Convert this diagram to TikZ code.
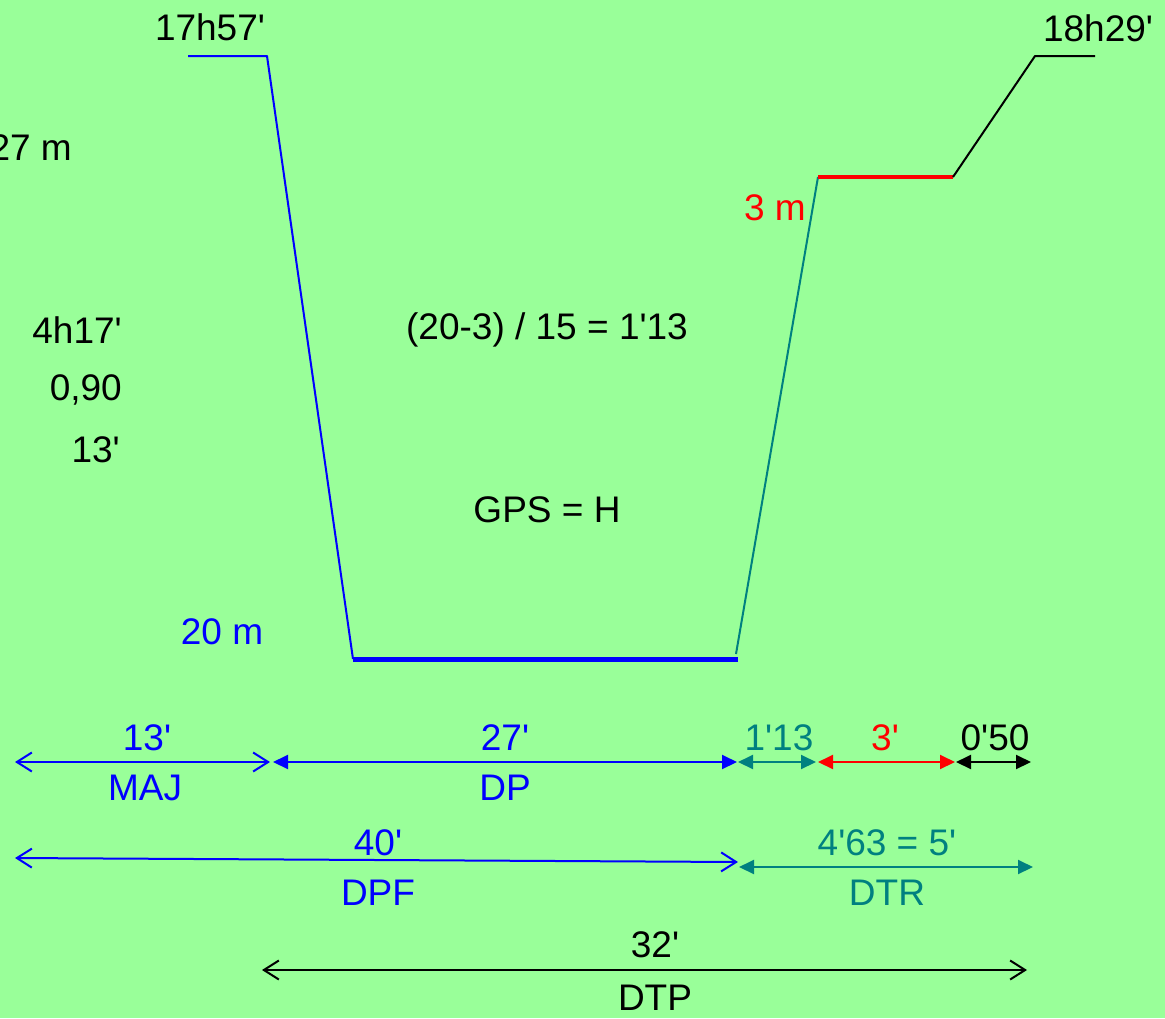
\documentclass[tikz,border=0pt]{standalone}
\usepackage{fontspec}
\setmainfont{Liberation Sans}[Ligatures=TeXOff]
\usetikzlibrary{arrows.meta}
\definecolor{PoolFill}{HTML}{99FF99}
\definecolor{DiveInk}{HTML}{0000FF}
\definecolor{RiseInk}{HTML}{008080}
\definecolor{StopInk}{HTML}{FF0000}

\begin{document}
\begin{tikzpicture}[
    x=1pt, y=-1pt,
    font=\fontsize{37}{40}\selectfont,
    every node/.style={inner sep=0pt, anchor=center},
    prof/.style={line width=2pt, line join=round},
    dimline/.style={line width=2pt},
    barbdim/.style={
      dimline,
      {Straight Barb[length=15pt, width=19pt]}-{Straight Barb[length=15pt, width=19pt]}
    },
    fulldim/.style={
      dimline,
      {Triangle[length=15pt, width=14pt]}-{Triangle[length=15pt, width=14pt]}
    },
  ]
    \useasboundingbox (0,0) rectangle (1165,1018);
    \fill[PoolFill] (0,0) rectangle (1165,1018);

    % dive profile
    \coordinate (s0) at (188,56);
    \coordinate (s1) at (267,56);
    \coordinate (b0) at (353,659);
    \coordinate (b1) at (738,659);
    \coordinate (a0) at (736,654);
    \coordinate (p0) at (818,177);
    \coordinate (p1) at (953,177);
    \coordinate (e0) at (1035,56);
    \coordinate (e1) at (1095,56);

    \draw[prof, DiveInk] (s0) -- (s1) -- (b0);
    \draw[DiveInk, line width=5pt] (b0) -- (b1);
    \draw[prof, RiseInk] (a0) -- (p0);
    \draw[StopInk, line width=3.5pt] (p0) -- (p1);
    \draw[prof, black] (p1) -- (e0) -- (e1);

    \node (tstart) at (210,27) {17h57'};
    \node (tend) at (1098,28) {18h29'};
    \node[anchor=east] (pmax) at (72,148) {27 m};
    \node[anchor=east] (tdur) at (122,330) {4h17'};
    \node[anchor=east] (coef) at (122,390) {0,90};
    \node[anchor=east] (majv) at (120,450) {13'};
    \node (calc) at (547,330) {(20-3) / 15 = 1'13};
    \node (gps) at (547,510) {GPS = H};
    \node[text=DiveInk] (depth) at (222,632) {20 m};
    \node[text=StopInk] (stop) at (775,208) {3 m};

    % first row
    \coordinate (m0) at (15,762);
    \coordinate (m1) at (270,762);
    \coordinate (d0) at (273,762);
    \coordinate (d1) at (737,762);
    \coordinate (r0) at (738,762);
    \coordinate (r1) at (816,762);
    \coordinate (q0) at (818,762);
    \coordinate (q1) at (955,762);
    \coordinate (u0) at (956,762);
    \coordinate (u1) at (1031,762);

    \draw[barbdim, DiveInk] (m0) -- (m1);
    \draw[fulldim, DiveInk] (d0) -- (d1);
    \draw[fulldim, RiseInk] (r0) -- (r1);
    \draw[fulldim, StopInk] (q0) -- (q1);
    \draw[fulldim, black] (u0) -- (u1);

    \node[text=DiveInk] (majt) at (147,738) {13'};
    \node[text=DiveInk] (majl) at (145,788) {MAJ};
    \node[text=DiveInk] (dpt) at (505,738) {27'};
    \node[text=DiveInk] (dpl) at (505,788) {DP};
    \node[text=RiseInk] (rist) at (779,738) {1'13};
    \node[text=StopInk] (stopt) at (885,738) {3'};
    \node (surft) at (995,738) {0'50};

    % second row
    \coordinate (f0) at (15,858);
    \coordinate (f1) at (738,862);
    \coordinate (g0) at (739,867);
    \coordinate (g1) at (1033,867);

    \draw[barbdim, DiveInk] (f0) -- (f1);
    \draw[fulldim, RiseInk] (g0) -- (g1);

    \node[text=DiveInk] (dpft) at (378,843) {40'};
    \node[text=DiveInk] (dpfl) at (378,893) {DPF};
    \node[text=RiseInk] (dtrt) at (887,843) {4'63 = 5'};
    \node[text=RiseInk] (dtrl) at (887,893) {DTR};

    % third row
    \coordinate (h0) at (262,970);
    \coordinate (h1) at (1027,970);

    \draw[barbdim, black] (h0) -- (h1);

    \node (dtpt) at (655,945) {32'};
    \node (dtpl) at (655,998) {DTP};
  \end{tikzpicture}
\end{document}
